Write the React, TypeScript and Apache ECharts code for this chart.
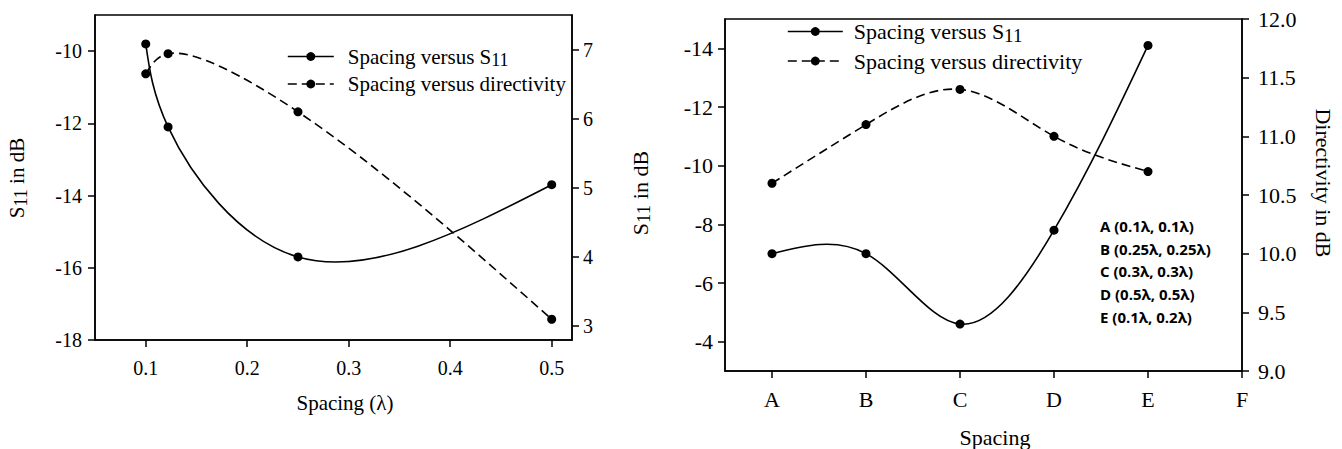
import React, { useEffect, useRef } from 'react';
import * as echarts from 'echarts';

// ---------- data ----------
const leftSpacing = [0.1, 0.122, 0.25, 0.5];
const leftS11 = [-9.8, -12.1, -15.7, -13.7];
const leftDirectivity = [6.65, 6.94, 6.1, 3.1];
const leftXTicks = [0.1, 0.2, 0.3, 0.4, 0.5];
const leftS11Ticks = [-18, -16, -14, -12, -10];
const leftDirTicks = [3, 4, 5, 6, 7];

const rightCategories = ['A', 'B', 'C', 'D', 'E', 'F'];
const rightS11 = [-7.0, -7.0, -4.6, -7.8, -14.1];
const rightDirectivity = [10.6, 11.1, 11.4, 11.0, 10.7];
const rightS11Ticks = [-14, -12, -10, -8, -6, -4];
const spacingLabels = [
  'A (0.1λ, 0.1λ)',
  'B (0.25λ, 0.25λ)',
  'C (0.3λ, 0.3λ)',
  'D (0.5λ, 0.5λ)',
  'E (0.1λ, 0.2λ)',
];

const S11_NAME = 'Spacing versus S11';
const DIR_NAME = 'Spacing versus directivity';

// ---------- styles ----------
const FONT = '"Liberation Serif", "Times New Roman", Times, serif';
const SANS = '"Open Sans", "Noto Sans", sans-serif';
const BLACK = '#000';
const LINE_W = 1.6;
const DASH = [9, 5];

function axisCommon(fontSize: number, margin: number, ticks?: number[]) {
  return {
    axisLine: { show: true, onZero: false, lineStyle: { color: BLACK, width: 1.5 } },
    axisTick: {
      show: true,
      inside: false,
      length: 7,
      lineStyle: { color: BLACK, width: 1.5 },
      ...(ticks ? { customValues: ticks } : {}),
    },
    axisLabel: {
      color: BLACK,
      fontSize,
      fontFamily: FONT,
      margin,
      ...(ticks ? { customValues: ticks } : {}),
    },
    splitLine: { show: false },
  };
}

function legendFor(name: string, left: number, top: number, itemWidth: number, fontSize: number, gap: number, dashed: boolean) {
  return {
    left,
    top,
    padding: 0,
    data: [name],
    selectedMode: false,
    itemWidth,
    itemHeight: 11,
    lineStyle: { color: BLACK, width: LINE_W, opacity: 1, type: dashed ? DASH : 'solid' },
    itemStyle: { color: BLACK, opacity: 1 },
    formatter: (n: string) => n.replace('S11', 'S{sub|11}'),
    textStyle: {
      color: BLACK,
      fontSize,
      fontFamily: FONT,
      padding: [0, 0, 0, gap],
      rich: {
        sub: { fontSize: Math.round(fontSize * 0.85), fontFamily: FONT, color: BLACK, padding: [7, 0, 0, 0] },
      },
    },
  };
}

function titleText(text: string, x: number, y: number, rotation: number, fontSize: number) {
  return {
    type: 'text',
    x,
    y,
    rotation,
    silent: true,
    style: {
      text,
      fill: BLACK,
      fontSize,
      fontFamily: FONT,
      align: 'center',
      verticalAlign: 'middle',
      rich: {
        sub: { fontSize: Math.round(fontSize * 0.85), fontFamily: FONT, fill: BLACK, padding: [7, 0, 0, 0] },
      },
    },
  };
}

// Parametric natural cubic spline through pixel points, emitted as cubic Bezier segments.
function splinePath(p: number[][], alpha: number): string {
  const n = p.length;
  if (n < 2) return '';
  const h: number[] = [];
  for (let i = 0; i < n - 1; i++) {
    h.push(Math.max(Math.pow(Math.hypot(p[i + 1][0] - p[i][0], p[i + 1][1] - p[i][1]), alpha), 1e-6));
  }
  const derivs = (k: number) => {
    const f = p.map((q) => q[k]);
    const M = new Array(n).fill(0);
    if (n > 2) {
      const m = n - 2;
      const a: number[] = [], b: number[] = [], c: number[] = [], r: number[] = [];
      for (let i = 1; i < n - 1; i++) {
        a.push(h[i - 1]);
        b.push(2 * (h[i - 1] + h[i]));
        c.push(h[i]);
        r.push(6 * ((f[i + 1] - f[i]) / h[i] - (f[i] - f[i - 1]) / h[i - 1]));
      }
      const cp = new Array(m), dp = new Array(m);
      cp[0] = c[0] / b[0];
      dp[0] = r[0] / b[0];
      for (let i = 1; i < m; i++) {
        const den = b[i] - a[i] * cp[i - 1];
        cp[i] = c[i] / den;
        dp[i] = (r[i] - a[i] * dp[i - 1]) / den;
      }
      const sol = new Array(m);
      sol[m - 1] = dp[m - 1];
      for (let i = m - 2; i >= 0; i--) sol[i] = dp[i] - cp[i] * sol[i + 1];
      for (let i = 0; i < m; i++) M[i + 1] = sol[i];
    }
    const start: number[] = [], end: number[] = [];
    for (let i = 0; i < n - 1; i++) {
      const s = (f[i + 1] - f[i]) / h[i];
      start.push(s - (h[i] * (2 * M[i] + M[i + 1])) / 6);
      end.push(s + (h[i] * (M[i] + 2 * M[i + 1])) / 6);
    }
    return { start, end };
  };
  const dx = derivs(0);
  const dy = derivs(1);
  let d = `M${p[0][0]},${p[0][1]}`;
  for (let i = 0; i < n - 1; i++) {
    const t = h[i] / 3;
    const c1x = p[i][0] + t * dx.start[i];
    const c1y = p[i][1] + t * dy.start[i];
    const c2x = p[i + 1][0] - t * dx.end[i];
    const c2y = p[i + 1][1] - t * dy.end[i];
    d += ` C${c1x},${c1y} ${c2x},${c2y} ${p[i + 1][0]},${p[i + 1][1]}`;
  }
  return d;
}

function curveSeries(points: number[][], xi: number, yi: number, dashed: boolean) {
  return {
    type: 'custom',
    xAxisIndex: xi,
    yAxisIndex: yi,
    data: points,
    encode: { x: 0, y: 1 },
    z: 1,
    silent: true,
    clip: false,
    renderItem: (params: any, api: any) => {
      if (params.dataIndex !== 0) return null;
      const px = points.map((pt) => api.coord(pt));
      return {
        type: 'path',
        shape: { pathData: splinePath(px, 0.5) },
        style: {
          fill: 'none',
          stroke: BLACK,
          lineWidth: LINE_W,
          lineDash: dashed ? DASH : null,
        },
      };
    },
  };
}

function markerSeries(name: string, data: number[][], xi: number, yi: number, dashed: boolean) {
  return {
    type: 'line',
    name,
    xAxisIndex: xi,
    yAxisIndex: yi,
    data,
    z: 3,
    symbol: 'circle',
    symbolSize: 9,
    showSymbol: true,
    itemStyle: { color: BLACK },
    lineStyle: { color: BLACK, width: LINE_W, type: dashed ? DASH : 'solid', opacity: 0 },
    emphasis: { disabled: true },
  };
}

function buildOption() {
  const leftS11Data = leftSpacing.map((x, i) => [x, leftS11[i]]);
  const leftDirData = leftSpacing.map((x, i) => [x, leftDirectivity[i]]);
  const rightS11Data = rightS11.map((v, i) => [i + 1, v]);
  const rightDirData = rightDirectivity.map((v, i) => [i + 1, v]);
  const rightXTicks = rightCategories.map((_, i) => i + 1);

  return {
    animation: false,
    backgroundColor: '#fff',
    grid: [
      { left: 95, top: 15, width: 477, height: 325, show: true, borderColor: BLACK, borderWidth: 1.5, backgroundColor: 'transparent' },
      { left: 725, top: 19, width: 517, height: 352, show: true, borderColor: BLACK, borderWidth: 1.5, backgroundColor: 'transparent' },
    ],
    xAxis: [
      {
        type: 'value',
        gridIndex: 0,
        min: 0.05,
        max: 0.52,
        position: 'bottom',
        ...axisCommon(20, 18, leftXTicks),
      },
      {
        type: 'value',
        gridIndex: 1,
        min: 0.5,
        max: 6,
        position: 'bottom',
        ...axisCommon(22, 17, rightXTicks),
        axisLabel: {
          ...axisCommon(22, 17, rightXTicks).axisLabel,
          formatter: (v: number) => rightCategories[Math.round(v) - 1] ?? '',
        },
      },
    ],
    yAxis: [
      { type: 'value', gridIndex: 0, position: 'left', min: -18, max: -9, ...axisCommon(20, 13, leftS11Ticks) },
      { type: 'value', gridIndex: 0, position: 'right', min: 2.8, max: 7.5, ...axisCommon(20, 11, leftDirTicks) },
      { type: 'value', gridIndex: 1, position: 'left', inverse: true, min: -15, max: -3, ...axisCommon(22, 12, rightS11Ticks) },
      {
        type: 'value',
        gridIndex: 1,
        position: 'right',
        min: 9,
        max: 12,
        interval: 0.5,
        ...axisCommon(22, 16),
        axisLabel: { ...axisCommon(22, 16).axisLabel, formatter: (v: number) => v.toFixed(1) },
      },
    ],
    legend: [
      legendFor(S11_NAME, 287, 46, 46, 21, 9, false),
      legendFor(DIR_NAME, 287, 73.5, 46, 21, 9, true),
      legendFor(S11_NAME, 787, 20.5, 55, 22, 6, false),
      legendFor(DIR_NAME, 787, 50, 55, 22, 6, true),
    ],
    series: [
      curveSeries(leftS11Data, 0, 0, false),
      curveSeries(leftDirData, 0, 1, true),
      curveSeries(rightS11Data, 1, 2, false),
      curveSeries(rightDirData, 1, 3, true),
      markerSeries(S11_NAME, leftS11Data, 0, 0, false),
      markerSeries(DIR_NAME, leftDirData, 0, 1, true),
      markerSeries(S11_NAME, rightS11Data, 1, 2, false),
      markerSeries(DIR_NAME, rightDirData, 1, 3, true),
    ],
    graphic: [
      titleText('S{sub|11} in dB', 17, 178, Math.PI / 2, 21),
      titleText('Spacing (λ)', 345, 403, 0, 21),
      titleText('S{sub|11} in dB', 640, 193, Math.PI / 2, 22),
      titleText('Directivity in dB', 1323, 183, -Math.PI / 2, 22),
      titleText('Spacing', 995, 437, 0, 22),
      ...spacingLabels.map((t, i) => ({
        type: 'text',
        x: 1100,
        y: 226 + i * 22.7,
        silent: true,
        style: {
          text: t,
          fill: BLACK,
          fontSize: 15,
          fontWeight: 'bold',
          fontFamily: SANS,
          align: 'left',
          verticalAlign: 'middle',
        },
      })),
    ],
  };
}

export default function App() {
  const ref = useRef<HTMLDivElement>(null);
  useEffect(() => {
    if (!ref.current) return;
    const chart = echarts.init(ref.current, null, { renderer: 'svg' });
    chart.setOption(buildOption() as any);
    return () => chart.dispose();
  }, []);
  return (
    <div
      ref={ref}
      style={{ position: 'absolute', left: 0, top: 0, width: 1342, height: 449, background: '#fff' }}
    />
  );
}
